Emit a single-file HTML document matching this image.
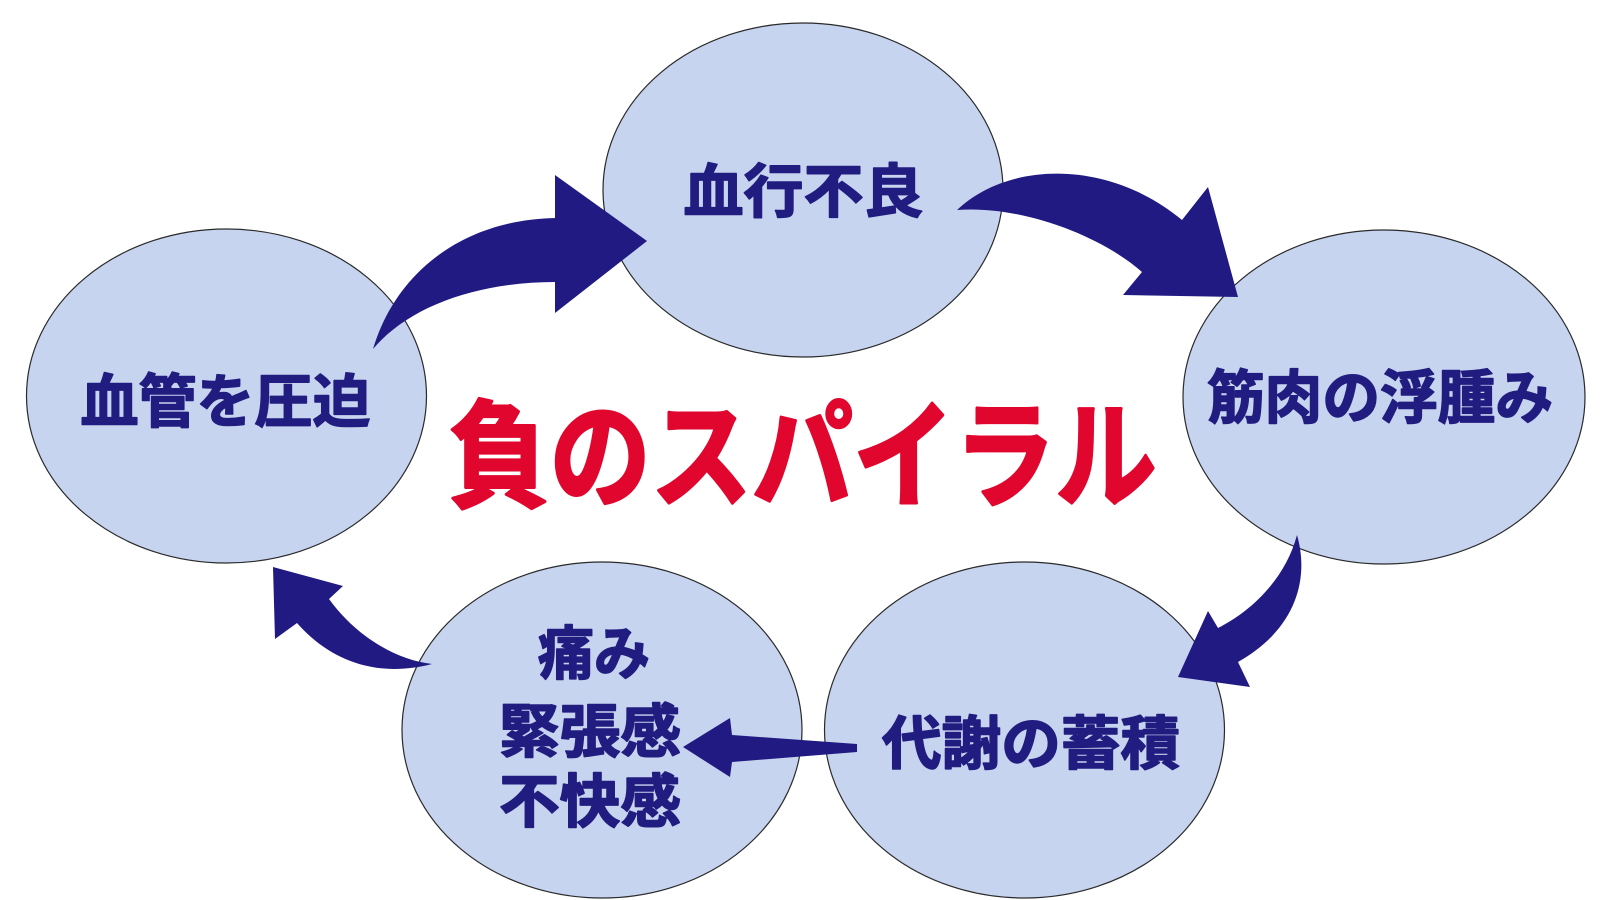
<!DOCTYPE html>
<html>
<head>
<meta charset="utf-8">
<style>
html,body{margin:0;padding:0;background:#ffffff;}
svg{display:block;}
text{font-family:"Liberation Sans","Noto Sans CJK JP",sans-serif;font-weight:700;}
</style>
</head>
<body>
<svg width="1600" height="900" viewBox="0 0 1600 900" xmlns="http://www.w3.org/2000/svg">
  <rect width="1600" height="900" fill="#ffffff"/>
  <!-- ellipses -->
  <g fill="#c6d4ef" stroke="#2a2a2a" stroke-width="1.2">
    <ellipse cx="803" cy="190" rx="200" ry="167"/>
    <ellipse cx="226.5" cy="396" rx="200" ry="167"/>
    <ellipse cx="1384" cy="397" rx="201" ry="167"/>
    <ellipse cx="602" cy="730" rx="200" ry="168"/>
    <ellipse cx="1024.5" cy="730" rx="200" ry="168"/>
  </g>
  <!-- arrows -->
  <g fill="#201a82">
    <path d="M373,349 C395,275 460,220 555,218 L555,175 L647,241 L555,313 L555,282 C480,282 410,305 373,349 Z"/>
    <path d="M957,210 C1010,160 1110,160 1182,220 L1208,187 L1238,297 L1123,295 L1142,272 C1100,235 1020,205 957,210 Z"/>
    <path d="M1297,535 C1310,580 1295,630 1238,662 L1250,687 L1178,677 L1208,611 L1218,628 C1250,612 1285,580 1297,535 Z"/>
    <path d="M857,744 L732,735 L730,718 L683,747 L730,777 L732,762 L857,752 Z"/>
    <path d="M432,664 C395,660 355,635 329,599 L343,586 L273,567 L275,639 L297,623 C325,655 370,680 432,664 Z"/>
  </g>
  <!-- labels -->
  <g fill="#211c80" stroke="#211c80" stroke-width="1.6" stroke-linejoin="round" font-size="58" text-anchor="middle">
    <text x="803.5" y="212" textLength="240" lengthAdjust="spacingAndGlyphs">血行不良</text>
    <text x="225.5" y="422" textLength="290" lengthAdjust="spacingAndGlyphs">血管を圧迫</text>
    <text x="1380" y="418" textLength="346" lengthAdjust="spacingAndGlyphs">筋肉の浮腫み</text>
    <text x="1031" y="764" textLength="298" lengthAdjust="spacingAndGlyphs">代謝の蓄積</text>
    <text x="594" y="674" textLength="112" lengthAdjust="spacingAndGlyphs">痛み</text>
    <text x="590" y="752" textLength="182" lengthAdjust="spacingAndGlyphs">緊張感</text>
    <text x="590" y="822" textLength="182" lengthAdjust="spacingAndGlyphs">不快感</text>
  </g>
  <!-- title -->
  <text x="802.5" y="498" font-size="117" fill="#e0062e" stroke="#e0062e" stroke-width="3" stroke-linejoin="round" text-anchor="middle" textLength="708" lengthAdjust="spacingAndGlyphs">負のスパイラル</text>
</svg>
</body>
</html>
